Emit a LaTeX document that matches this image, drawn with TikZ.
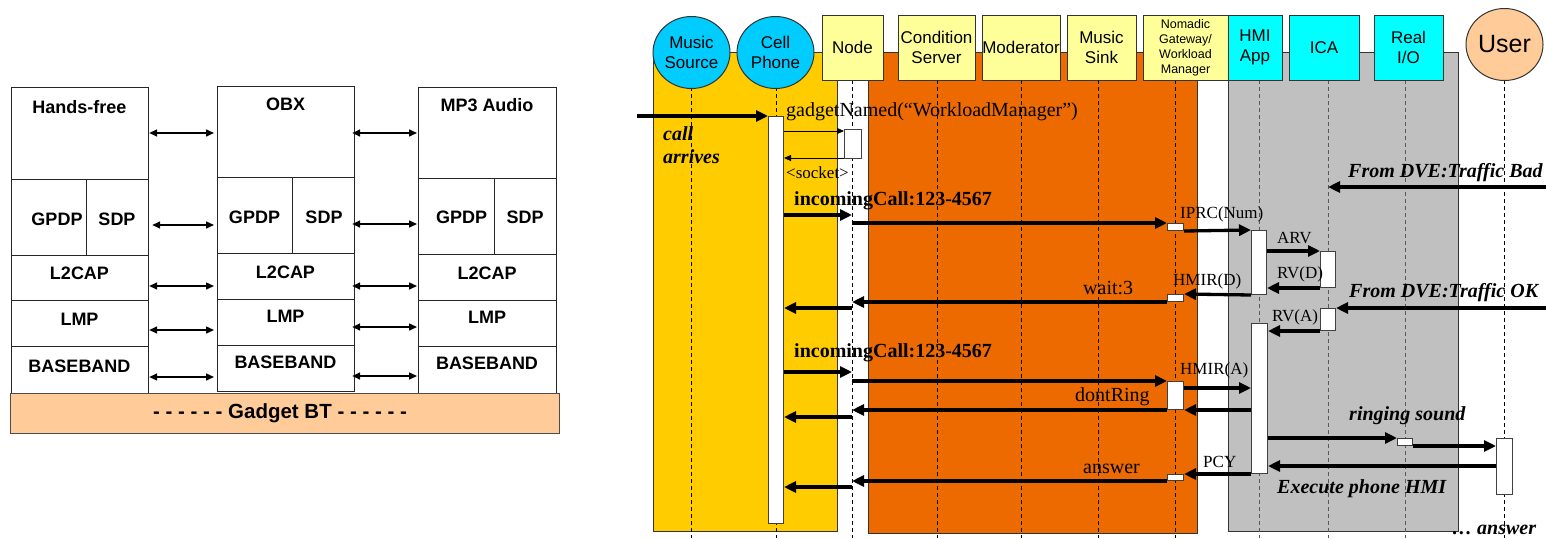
\documentclass[tikz,border=0pt]{standalone}
\usepackage{fontspec}
\setmainfont{Liberation Serif}
\setsansfont{Liberation Sans}
\usetikzlibrary{arrows.meta,shapes.geometric}

\definecolor{peach}{RGB}{255,204,153}
\definecolor{lanegold}{RGB}{255,204,0}
\definecolor{laneorange}{RGB}{236,106,0}
\definecolor{lanegray}{RGB}{192,192,192}
\definecolor{roundcyan}{RGB}{0,204,255}
\definecolor{boxcyan}{RGB}{0,255,255}
\definecolor{paleyellow}{RGB}{255,255,153}

% box given by its top-left and bottom-right corners
\newcommand{\boxat}[6]{\node[#1, anchor=north west, minimum width={(#5)-(#3)}, minimum height={(#6)-(#4)}] (#2) at (#3,#4) {};}

\begin{document}
\begin{tikzpicture}[x=1pt,y=-1pt,
  cell/.style={draw=black!85, line width=1.2pt, inner sep=0pt, fill=white},
  gadget/.style={draw=black!70, line width=1.2pt, inner sep=0pt, fill=peach},
  stacklbl/.style={font=\sffamily\bfseries\fontsize{18}{20}\selectfont, anchor=base, inner sep=0pt},
  biarrow/.style={line width=1.5pt, {Triangle[length=8pt,width=7pt]}-{Triangle[length=8pt,width=7pt]}},
  lane/.style={draw=black!80, line width=1pt},
  lifeln/.style={line width=1pt, dash pattern=on 4pt off 3pt},
  rolebox/.style={draw=black!80, line width=1pt, inner sep=0pt, align=center,
                  font=\sffamily\fontsize{17}{19.5}\selectfont},
  roleround/.style={rolebox, ellipse, minimum width=77pt, minimum height=72pt},
  actfill/.style={draw=black!75, line width=1pt, fill=white, inner sep=0pt},
  msg/.style={line width=3.3pt, -{Triangle[length=12pt,width=11pt]}},
  thinmsg/.style={line width=1pt, -{Triangle[length=7pt,width=6pt]}},
  msglbl/.style={font=\fontsize{20}{22}\selectfont, anchor=base west, inner sep=0pt},
  siglbl/.style={font=\fontsize{17}{19}\selectfont, anchor=base west, inner sep=0pt},
  boldlbl/.style={font=\bfseries\fontsize{20}{22}\selectfont, anchor=base west, inner sep=0pt},
  notelbl/.style={font=\bfseries\itshape\fontsize{20}{22}\selectfont, anchor=base west, inner sep=0pt}]

\useasboundingbox (0,0) rectangle (1546,538);

% ---------- protocol stacks ----------
% Hands-free
\boxat{cell}{hfApp}{10.5}{87}{148}{179}
\boxat{cell}{hfGp}{10.5}{179}{86}{255}
\boxat{cell}{hfSd}{86}{179}{148}{255}
\boxat{cell}{hfL2}{10.5}{255}{148}{300}
\boxat{cell}{hfLm}{10.5}{300}{148}{346}
\boxat{cell}{hfBb}{10.5}{346}{148}{392.5}
% OBX
\boxat{cell}{obApp}{217}{86}{354}{177}
\boxat{cell}{obGp}{217}{177}{292}{253}
\boxat{cell}{obSd}{292}{177}{354}{253}
\boxat{cell}{obL2}{217}{253}{354}{299}
\boxat{cell}{obLm}{217}{299}{354}{345}
\boxat{cell}{obBb}{217}{345}{354}{391}
% MP3 Audio
\boxat{cell}{mpApp}{418}{87}{556}{178}
\boxat{cell}{mpGp}{418}{178}{494}{254}
\boxat{cell}{mpSd}{494}{178}{556}{254}
\boxat{cell}{mpL2}{418}{254}{556}{300}
\boxat{cell}{mpLm}{418}{300}{556}{346}
\boxat{cell}{mpBb}{418}{346}{556}{392.5}
% common base
\boxat{gadget}{gbt}{10}{392.5}{559}{433}

\node[stacklbl] (tHf) at (79.5,113) {Hands-free};
\node[stacklbl] (tHfG) at (57,225) {GPDP};
\node[stacklbl] (tHfS) at (117,225) {SDP};
\node[stacklbl] (tHfL) at (79.5,279) {L2CAP};
\node[stacklbl] (tHfM) at (79.5,325) {LMP};
\node[stacklbl] (tHfB) at (79.5,372) {BASEBAND};

\node[stacklbl] (tOb) at (285.5,110) {OBX};
\node[stacklbl] (tObG) at (254.5,223) {GPDP};
\node[stacklbl] (tObS) at (324,223) {SDP};
\node[stacklbl] (tObL) at (285.5,278) {L2CAP};
\node[stacklbl] (tObM) at (285.5,322) {LMP};
\node[stacklbl] (tObB) at (285.5,368) {BASEBAND};

\node[stacklbl] (tMp) at (487,111) {MP3 Audio};
\node[stacklbl] (tMpG) at (461.5,223) {GPDP};
\node[stacklbl] (tMpS) at (525,223) {SDP};
\node[stacklbl] (tMpL) at (487,279) {L2CAP};
\node[stacklbl] (tMpM) at (487,323) {LMP};
\node[stacklbl] (tMpB) at (487,369) {BASEBAND};

\node[font=\sffamily\bfseries\fontsize{20.5}{22}\selectfont, inner sep=0pt] (tGbt) at (280,413)
  {- - - - - -  Gadget BT - - - - - -};

% peer links between the stacks
\draw[biarrow] (hfApp.east |- 0,133) -- ([xshift=-3pt]obApp.west |- 0,133);
\draw[biarrow] ([xshift=3pt]hfSd.east |- 0,225) -- ([xshift=-3pt]obGp.west |- 0,225);
\draw[biarrow] (hfL2.east |- 0,286) -- ([xshift=-3pt]obL2.west |- 0,286);
\draw[biarrow] (hfLm.east |- 0,330) -- ([xshift=-3pt]obLm.west |- 0,330);
\draw[biarrow] (hfBb.east |- 0,377) -- ([xshift=-3pt]obBb.west |- 0,377);
\draw[biarrow] ([xshift=-3pt]obApp.east |- 0,133) -- ([xshift=-1pt]mpApp.west |- 0,133);
\draw[biarrow] ([xshift=-3pt]obSd.east |- 0,224) -- ([xshift=-1pt]mpGp.west |- 0,224);
\draw[biarrow] ([xshift=-3pt]obL2.east |- 0,286) -- ([xshift=-1pt]mpL2.west |- 0,286);
\draw[biarrow] ([xshift=-3pt]obLm.east |- 0,327) -- ([xshift=-1pt]mpLm.west |- 0,327);
\draw[biarrow] ([xshift=-3pt]obBb.east |- 0,376) -- ([xshift=-1pt]mpBb.west |- 0,376);

% ---------- sequence chart: swim lanes ----------
\path[lane, fill=lanegold] (653,52) rectangle (837,531);
\path[lane, fill=laneorange] (868,52) rectangle (1197,533);
\path[lane, fill=lanegray] (1228,52) rectangle (1458,531);

% lifeline anchors
\coordinate (Lmsrc) at (691,87);
\coordinate (Lcph) at (776,87);
\coordinate (Lnode) at (852,80);
\coordinate (Lcond) at (937,80);
\coordinate (Lmod) at (1021,80);
\coordinate (Lsink) at (1098,80);
\coordinate (Lnom) at (1175,80);
\coordinate (Lhmi) at (1259,80);
\coordinate (Lica) at (1328,80);
\coordinate (Lrio) at (1405,80);
\coordinate (Luser) at (1504,80);

\foreach \ll in {Lmsrc,Lcph,Lnode,Lcond,Lmod,Lsink,Lnom,Luser}
  \draw[lifeln] (\ll) -- (\ll |- 0,538);
\foreach \ll in {Lhmi,Lica,Lrio}
  \draw[lifeln, black!65] (\ll) -- (\ll |- 0,538);

% participants
\node[roleround, fill=roundcyan] (msrc) at (691.5,52.5) {Music\\Source};
\node[roleround, fill=roundcyan] (cph) at (775.5,52.5) {Cell\\Phone};
\node[rolebox, fill=paleyellow, minimum width=61pt, minimum height=65pt] (nodeHd) at (852.5,47.5) {Node};
\node[rolebox, fill=paleyellow, minimum width=77pt, minimum height=65pt] (condHd) at (936.5,47.5) {Condition\\Server};
\node[rolebox, fill=paleyellow, minimum width=78pt, minimum height=65pt] (modHd) at (1021,47.5) {Moderator};
\node[rolebox, fill=paleyellow, minimum width=69pt, minimum height=65pt] (sinkHd) at (1101.5,47.5) {Music\\Sink};
\node[rolebox, fill=paleyellow, minimum width=85pt, minimum height=65pt,
      font=\sffamily\fontsize{12.5}{15}\selectfont] (nomHd) at (1185.5,47.5) {Nomadic\\Gateway/\\Workload\\Manager};
\node[rolebox, fill=boxcyan, minimum width=54pt, minimum height=65pt] (hmiHd) at (1255,47.5) {HMI\\App};
\node[rolebox, fill=boxcyan, minimum width=70pt, minimum height=65pt] (icaHd) at (1324,47.5) {ICA};
\node[rolebox, fill=boxcyan, minimum width=69pt, minimum height=65pt] (rioHd) at (1408.5,47.5) {Real\\I/O};
\node[roleround, fill=peach, font=\sffamily\fontsize{25}{28}\selectfont] (userHd) at (1504.5,44.5) {User};

% activations
\boxat{actfill}{cpA}{768}{116}{783}{523}
\boxat{actfill}{ndA}{844}{129}{861}{158}
\boxat{actfill}{ngA1}{1167}{223}{1183}{230}
\boxat{actfill}{ngA2}{1167}{294}{1183}{301}
\boxat{actfill}{ngA3}{1167}{381}{1183}{409}
\boxat{actfill}{ngA4}{1167}{474}{1183}{480}
\boxat{actfill}{hmA1}{1251}{230}{1266}{294}
\boxat{actfill}{hmA2}{1251}{323}{1267}{473}
\boxat{actfill}{icA1}{1320}{251}{1335}{287}
\boxat{actfill}{icA2}{1320}{308}{1335}{330}
\boxat{actfill}{rioA}{1397}{438}{1412}{445}
\boxat{actfill}{usA}{1496}{438}{1512}{494}

% free ends of external messages
\coordinate (callIn) at (637,116);
\coordinate (dveBad) at (1546,187);
\coordinate (dveOk) at (1546,308);

% messages
\draw[msg] (callIn) -- (cpA.west |- callIn);
\draw[thinmsg] (cpA.east |- 0,131) -- (ndA.west |- 0,131);
\draw[thinmsg] (ndA.west |- 0,158) -- (cpA.east |- 0,158);

\draw[msg] (cpA.east |- 0,215) -- (Lnode |- 0,215);
\draw[msg] (Lnode |- ngA1.north west) -- (ngA1.north west);
\draw[msg] (ngA1.south east) -- (hmA1.north west);
\draw[msg] (hmA1.east |- icA1.north west) -- (icA1.north west);
\draw[msg] (icA1.south west) -- (hmA1.east |- icA1.south west);
\draw[msg] (hmA1.south west) -- (ngA2.north east);
\draw[msg] (ngA2.south west) -- (Lnode |- ngA2.south west);
\draw[msg] (Lnode |- 0,308) -- (cpA.east |- 0,308);

\draw[msg] (dveBad) -- (Lica |- dveBad);
\draw[msg] (dveOk) -- (icA2.north east);
\draw[msg] (icA2.south west) -- (hmA2.east |- icA2.south west);

\draw[msg] (cpA.east |- 0,372) -- (Lnode |- 0,372);
\draw[msg] (Lnode |- ngA3.north west) -- (ngA3.north west);
\draw[msg] (ngA3.east |- 0,388) -- (hmA2.west |- 0,388);
\draw[msg] (hmA2.west |- ngA3.south east) -- (ngA3.south east);
\draw[msg] (ngA3.south west) -- (Lnode |- ngA3.south west);
\draw[msg] (Lnode |- 0,417) -- (cpA.east |- 0,417);

\draw[msg] (hmA2.east |- rioA.north west) -- (rioA.north west);
\draw[msg] (rioA.south east) -- (usA.west |- rioA.south east);
\draw[msg] (usA.west |- 0,466) -- (hmA2.east |- 0,466);

\draw[msg] (hmA2.south west) -- (ngA4.east |- hmA2.south west);
\draw[msg] (ngA4.south west) -- (Lnode |- ngA4.south west);
\draw[msg] (Lnode |- 0,487) -- (cpA.east |- 0,487);

% message labels
\node[notelbl] (tCall) at (663,140) {call};
\node[notelbl] (tArr) at (663,163) {arrives};
\node[msglbl] (tGad) at (786,116) {gadgetNamed(“WorkloadManager”)};
\node[siglbl] (tSock) at (786,178) {<socket>};
\node[boldlbl] (tInc1) at (794,205) {incomingCall:123-4567};
\node[siglbl] (tIprc) at (1180,218) {IPRC(Num)};
\node[siglbl] (tArv) at (1277,243) {ARV};
\node[siglbl] (tRvd) at (1277,278) {RV(D)};
\node[siglbl] (tHmd) at (1173,285) {HMIR(D)};
\node[msglbl] (tWait) at (1083,294) {wait:3};
\node[notelbl] (tBad) at (1348,177) {From DVE:Traffic Bad};
\node[notelbl] (tOk) at (1349,297) {From DVE:Traffic OK};
\node[siglbl] (tRva) at (1272,321) {RV(A)};
\node[boldlbl] (tInc2) at (794,357) {incomingCall:123-4567};
\node[siglbl] (tHma) at (1180,374) {HMIR(A)};
\node[msglbl] (tDont) at (1075,401) {dontRing};
\node[notelbl] (tRing) at (1349,420) {ringing sound};
\node[siglbl] (tPcy) at (1203,467) {PCY};
\node[msglbl] (tAns) at (1083,473) {answer};
\node[notelbl] (tExec) at (1277,493) {Execute phone HMI};
\node[notelbl] (tMore) at (1452,534) {\ldots\ answer};

\end{tikzpicture}
\end{document}
